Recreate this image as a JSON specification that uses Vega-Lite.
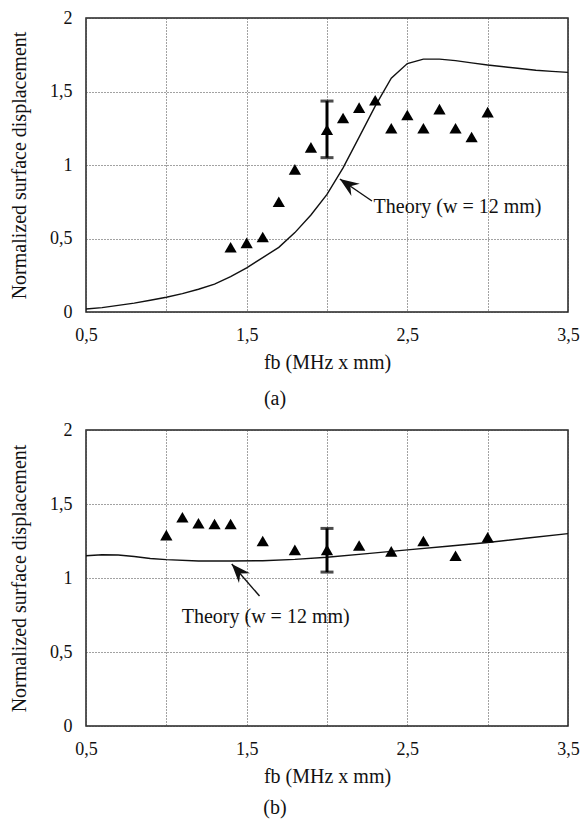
{
  "$schema": "https://vega.github.io/schema/vega-lite/v6.json",
  "padding": {"left": 8, "top": 8, "right": 5, "bottom": 5},
  "background": "white",
  "spacing": 10,
  "config": {
    "font": "Liberation Serif",
    "view": {"stroke": "#222", "strokeWidth": 1.5},
    "axis": {
      "labelFont": "Liberation Serif", "labelFontSize": 18, "labelColor": "#111",
      "titleFont": "Liberation Serif", "titleFontSize": 20, "titleFontWeight": "normal", "titleColor": "#111",
      "grid": true, "gridDash": [1, 2], "gridColor": "#444", "gridWidth": 1,
      "domain": false, "ticks": false
    },
    "title": {"font": "Liberation Serif", "fontSize": 20, "fontWeight": "normal", "color": "#111"}
  },
  "datasets": {
    "a_pts": [
      {"fb": 1.4, "v": 0.44}, {"fb": 1.5, "v": 0.47}, {"fb": 1.6, "v": 0.51}, {"fb": 1.7, "v": 0.75},
      {"fb": 1.8, "v": 0.97}, {"fb": 1.9, "v": 1.12}, {"fb": 2.0, "v": 1.24}, {"fb": 2.1, "v": 1.32},
      {"fb": 2.2, "v": 1.39}, {"fb": 2.3, "v": 1.44}, {"fb": 2.4, "v": 1.25}, {"fb": 2.5, "v": 1.34},
      {"fb": 2.6, "v": 1.25}, {"fb": 2.7, "v": 1.38}, {"fb": 2.8, "v": 1.25}, {"fb": 2.9, "v": 1.19},
      {"fb": 3.0, "v": 1.36}
    ],
    "a_theory": [
      {"fb": 0.5, "v": 0.02}, {"fb": 0.6, "v": 0.03}, {"fb": 0.7, "v": 0.045}, {"fb": 0.8, "v": 0.06},
      {"fb": 0.9, "v": 0.08}, {"fb": 1.0, "v": 0.10}, {"fb": 1.1, "v": 0.125}, {"fb": 1.2, "v": 0.155},
      {"fb": 1.3, "v": 0.19}, {"fb": 1.4, "v": 0.24}, {"fb": 1.5, "v": 0.30}, {"fb": 1.6, "v": 0.37},
      {"fb": 1.7, "v": 0.44}, {"fb": 1.8, "v": 0.54}, {"fb": 1.9, "v": 0.66}, {"fb": 2.0, "v": 0.80},
      {"fb": 2.1, "v": 0.98}, {"fb": 2.2, "v": 1.19}, {"fb": 2.3, "v": 1.40}, {"fb": 2.4, "v": 1.59},
      {"fb": 2.5, "v": 1.69}, {"fb": 2.6, "v": 1.72}, {"fb": 2.7, "v": 1.72}, {"fb": 2.8, "v": 1.71},
      {"fb": 2.9, "v": 1.695}, {"fb": 3.0, "v": 1.68}, {"fb": 3.1, "v": 1.668}, {"fb": 3.2, "v": 1.656},
      {"fb": 3.3, "v": 1.645}, {"fb": 3.4, "v": 1.637}, {"fb": 3.5, "v": 1.63}
    ],
    "a_err": [{"fb": 2.0, "lo": 1.05, "hi": 1.435}],
    "a_note": [{"fb": 2.29, "v": 0.714, "label": "Theory (w = 12 mm)", "fb0": 2.28, "v0": 0.755, "fb1": 2.08, "v1": 0.905, "ang": 304.5}],
    "b_pts": [
      {"fb": 1.0, "v": 1.29}, {"fb": 1.1, "v": 1.41}, {"fb": 1.2, "v": 1.37}, {"fb": 1.3, "v": 1.365},
      {"fb": 1.4, "v": 1.365}, {"fb": 1.6, "v": 1.25}, {"fb": 1.8, "v": 1.19}, {"fb": 2.0, "v": 1.19},
      {"fb": 2.2, "v": 1.22}, {"fb": 2.4, "v": 1.18}, {"fb": 2.6, "v": 1.25}, {"fb": 2.8, "v": 1.15},
      {"fb": 3.0, "v": 1.275}
    ],
    "b_theory": [
      {"fb": 0.5, "v": 1.15}, {"fb": 0.6, "v": 1.157}, {"fb": 0.7, "v": 1.155}, {"fb": 0.8, "v": 1.145},
      {"fb": 0.9, "v": 1.132}, {"fb": 1.0, "v": 1.124}, {"fb": 1.2, "v": 1.115}, {"fb": 1.4, "v": 1.115},
      {"fb": 1.6, "v": 1.117}, {"fb": 1.8, "v": 1.126}, {"fb": 2.0, "v": 1.14}, {"fb": 2.25, "v": 1.165},
      {"fb": 2.5, "v": 1.19}, {"fb": 2.75, "v": 1.215}, {"fb": 3.0, "v": 1.24}, {"fb": 3.25, "v": 1.27},
      {"fb": 3.5, "v": 1.30}
    ],
    "b_err": [{"fb": 2.0, "lo": 1.04, "hi": 1.335}],
    "b_note": [{"fb": 1.096, "v": 0.736, "label": "Theory (w = 12 mm)", "fb0": 1.58, "v0": 0.878, "fb1": 1.407, "v1": 1.095, "ang": 318}]
  },
  "vconcat": [
    {
      "width": 482, "height": 294,
      "title": {"text": "(a)", "orient": "bottom", "anchor": "middle", "dx": -52, "offset": 17},
      "encoding": {
        "x": {"field": "fb", "type": "quantitative", "scale": {"domain": [0.5, 3.5], "nice": false, "zero": false},
          "axis": {"title": "fb (MHz x mm)", "values": [0.5, 1, 1.5, 2, 2.5, 3, 3.5],
            "labelExpr": "datum.value % 1 == 0.5 ? replace(format(datum.value, '.1f'), '.', ',') : ''",
            "labelPadding": 14, "titlePadding": 8, "labelFlush": false}},
        "y": {"field": "v", "type": "quantitative", "scale": {"domain": [0, 2], "nice": false},
          "axis": {"title": "Normalized surface displacement", "values": [0, 0.5, 1, 1.5, 2],
            "labelExpr": "replace(format(datum.value, '~g'), '.', ',')",
            "labelPadding": 14, "titlePadding": 20}}
      },
      "layer": [
        {"data": {"name": "a_theory"}, "mark": {"type": "line", "color": "#111", "strokeWidth": 1.4}},
        {"data": {"name": "a_pts"}, "mark": {"type": "point", "shape": "triangle-up", "filled": true, "color": "#000", "size": 150, "opacity": 1}},
        {"data": {"name": "a_err"}, "mark": {"type": "rule", "color": "#000", "strokeWidth": 3},
          "encoding": {"y": {"field": "lo", "type": "quantitative"}, "y2": {"field": "hi"}}},
        {"data": {"name": "a_err"}, "mark": {"type": "tick", "orient": "horizontal", "color": "#000", "thickness": 3, "size": 13},
          "encoding": {"y": {"field": "lo", "type": "quantitative"}}},
        {"data": {"name": "a_err"}, "mark": {"type": "tick", "orient": "horizontal", "color": "#000", "thickness": 3, "size": 13},
          "encoding": {"y": {"field": "hi", "type": "quantitative"}}},
        {"data": {"name": "a_note"}, "mark": {"type": "text", "align": "left", "baseline": "middle", "fontSize": 20, "font": "Liberation Serif", "color": "#111"},
          "encoding": {"text": {"field": "label"}}},
        {"data": {"name": "a_note"}, "mark": {"type": "rule", "color": "#111", "strokeWidth": 1.4},
          "encoding": {"x": {"field": "fb0", "type": "quantitative"}, "y": {"field": "v0", "type": "quantitative"}, "x2": {"field": "fb1"}, "y2": {"field": "v1"}}},
        {"data": {"name": "a_note"}, "mark": {"type": "point", "shape": "M0,0L0.7,1.8L0,1.2L-0.7,1.8Z", "filled": true, "color": "#111", "size": 450, "opacity": 1},
          "encoding": {"x": {"field": "fb1", "type": "quantitative"}, "y": {"field": "v1", "type": "quantitative"}, "angle": {"field": "ang", "type": "quantitative", "scale": null}}}
      ]
    },
    {
      "width": 482, "height": 296,
      "title": {"text": "(b)", "orient": "bottom", "anchor": "middle", "dx": -52, "offset": 12},
      "encoding": {
        "x": {"field": "fb", "type": "quantitative", "scale": {"domain": [0.5, 3.5], "nice": false, "zero": false},
          "axis": {"title": "fb (MHz x mm)", "values": [0.5, 1, 1.5, 2, 2.5, 3, 3.5],
            "labelExpr": "datum.value % 1 == 0.5 ? replace(format(datum.value, '.1f'), '.', ',') : ''",
            "labelPadding": 14, "titlePadding": 8, "labelFlush": false}},
        "y": {"field": "v", "type": "quantitative", "scale": {"domain": [0, 2], "nice": false},
          "axis": {"title": "Normalized surface displacement", "values": [0, 0.5, 1, 1.5, 2],
            "labelExpr": "replace(format(datum.value, '~g'), '.', ',')",
            "labelPadding": 14, "titlePadding": 20}}
      },
      "layer": [
        {"data": {"name": "b_theory"}, "mark": {"type": "line", "color": "#111", "strokeWidth": 1.4}},
        {"data": {"name": "b_pts"}, "mark": {"type": "point", "shape": "triangle-up", "filled": true, "color": "#000", "size": 150, "opacity": 1}},
        {"data": {"name": "b_err"}, "mark": {"type": "rule", "color": "#000", "strokeWidth": 3},
          "encoding": {"y": {"field": "lo", "type": "quantitative"}, "y2": {"field": "hi"}}},
        {"data": {"name": "b_err"}, "mark": {"type": "tick", "orient": "horizontal", "color": "#000", "thickness": 3, "size": 13},
          "encoding": {"y": {"field": "lo", "type": "quantitative"}}},
        {"data": {"name": "b_err"}, "mark": {"type": "tick", "orient": "horizontal", "color": "#000", "thickness": 3, "size": 13},
          "encoding": {"y": {"field": "hi", "type": "quantitative"}}},
        {"data": {"name": "b_note"}, "mark": {"type": "text", "align": "left", "baseline": "middle", "fontSize": 20, "font": "Liberation Serif", "color": "#111"},
          "encoding": {"text": {"field": "label"}}},
        {"data": {"name": "b_note"}, "mark": {"type": "rule", "color": "#111", "strokeWidth": 1.4},
          "encoding": {"x": {"field": "fb0", "type": "quantitative"}, "y": {"field": "v0", "type": "quantitative"}, "x2": {"field": "fb1"}, "y2": {"field": "v1"}}},
        {"data": {"name": "b_note"}, "mark": {"type": "point", "shape": "M0,0L0.7,1.8L0,1.2L-0.7,1.8Z", "filled": true, "color": "#111", "size": 450, "opacity": 1},
          "encoding": {"x": {"field": "fb1", "type": "quantitative"}, "y": {"field": "v1", "type": "quantitative"}, "angle": {"field": "ang", "type": "quantitative", "scale": null}}}
      ]
    }
  ]
}
